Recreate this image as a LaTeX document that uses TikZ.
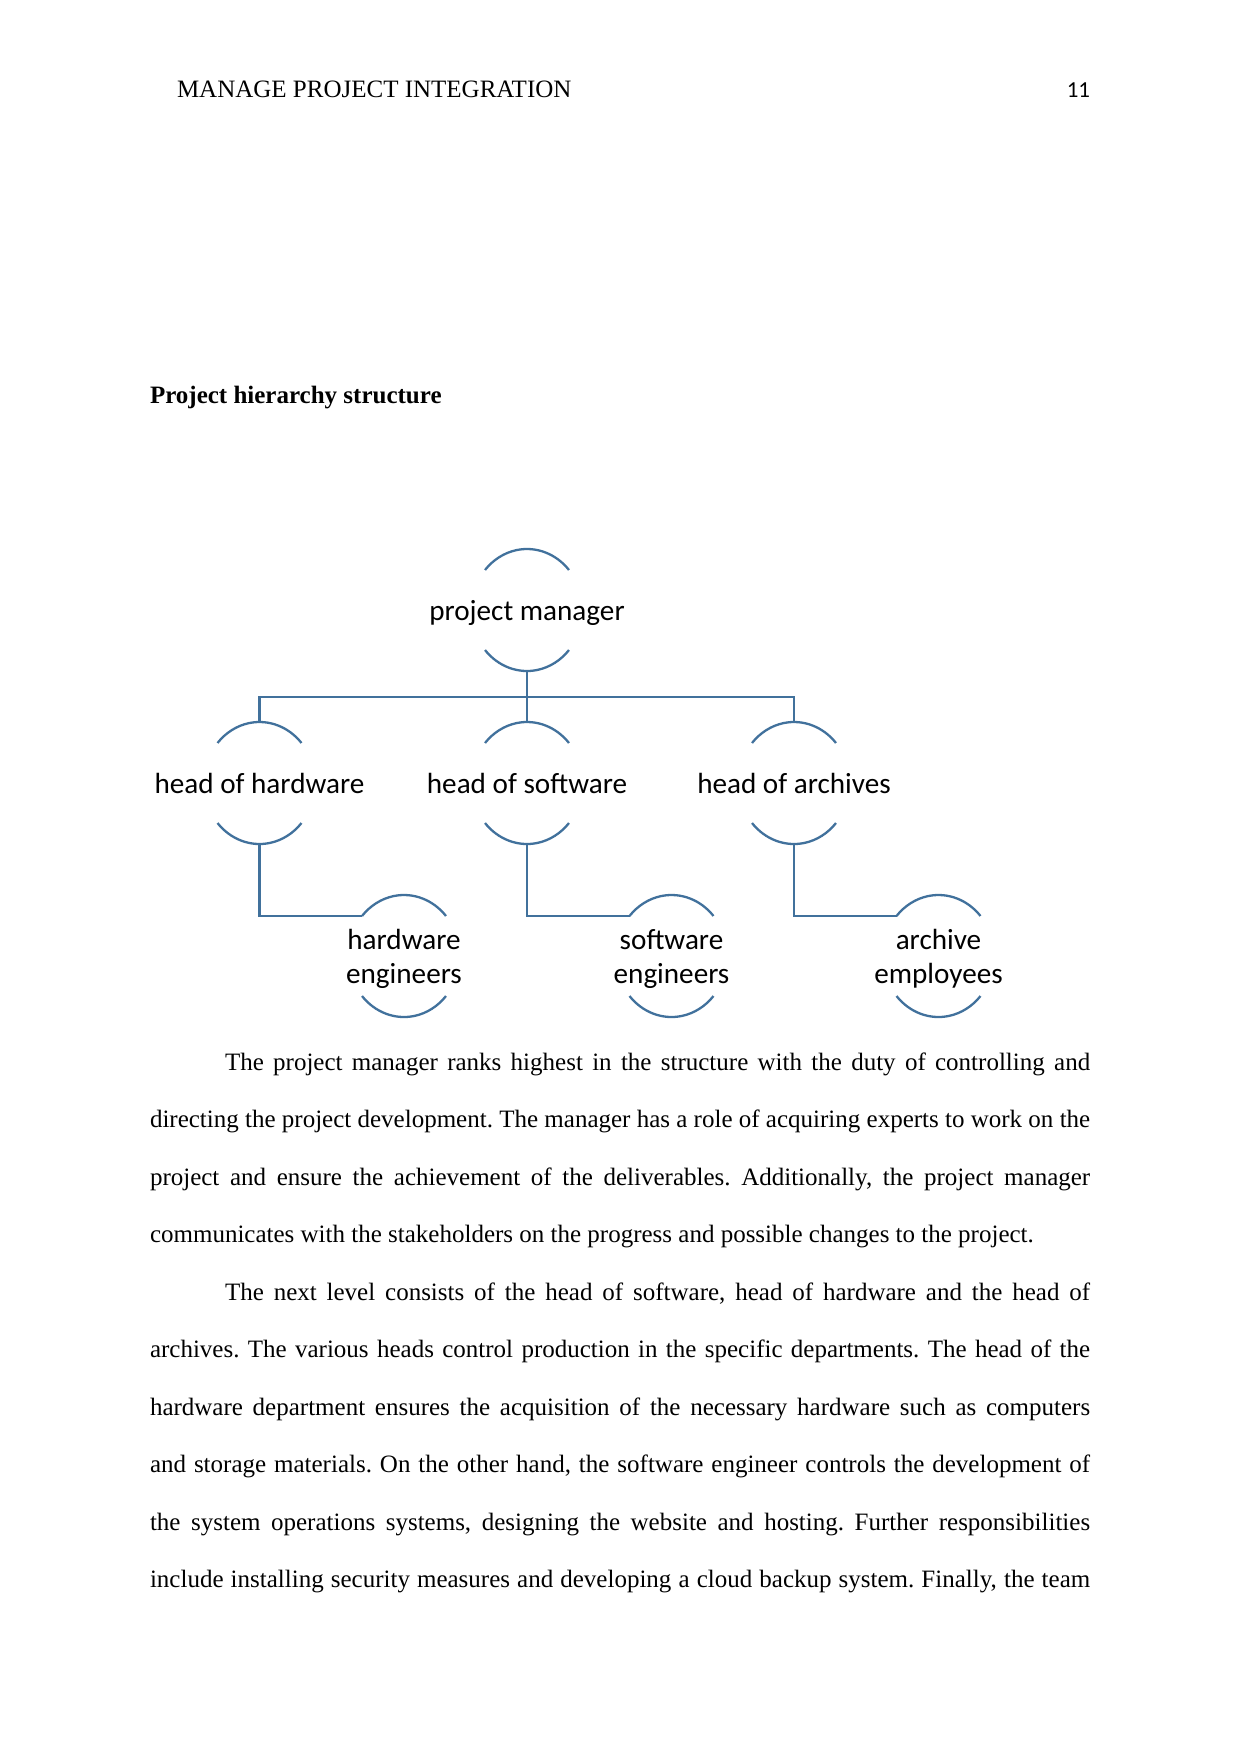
\documentclass[tikz,border=0pt]{standalone}
\usepackage{fontspec}
\setmainfont{Liberation Serif}
\newfontfamily\calibri{Carlito}
\usetikzlibrary{shapes.geometric, calc}
\definecolor{pmblue}{RGB}{65,113,156}
\frenchspacing
% justified body lines (full width / first line indented)
\newcommand{\jline}[1]{\makebox[451.28pt][s]{#1}}
\newcommand{\jindline}[1]{\makebox[415.28pt][s]{#1}}

\begin{document}
\begin{tikzpicture}[x=0.48pt, y=-0.48pt,
    every node/.style={inner sep=0pt, outer sep=0pt},
    role/.style={ellipse, minimum width=53.4pt, minimum height=58.56pt, align=center,
      font=\calibri\fontsize{14}{16.3}\selectfont},
    ring/.style={draw=pmblue, line width=1.1pt},
    link/.style={draw=pmblue, line width=1.1pt},
    bodyline/.style={anchor=base west, font=\fontsize{12}{13.8}\selectfont}]
  \path[use as bounding box, fill=white] (0,0) rectangle (1241,1754);

  % page header
  \node[anchor=base west, font=\fontsize{12}{13.8}\selectfont] (hdr) at (177,97) {MANAGE PROJECT INTEGRATION};
  \node[anchor=base east, font=\calibri\fontsize{11}{13}\selectfont] (pgno) at (1090,97) {11};
  \node[anchor=base west, font=\bfseries\fontsize{12}{13.8}\selectfont] (title) at (150,403) {Project hierarchy structure};

  % hierarchy
  \node[role, text depth=0pt] (pm) at (527,610) {\makebox[0pt]{project manager}};
  \node[role] (hh) at (259.5,783) {\makebox[0pt]{head of hardware}};
  \node[role] (hs) at (527,783) {\makebox[0pt]{head of software}};
  \node[role] (ha) at (794,783) {\makebox[0pt]{head of archives}};
  \node[role] (he) at (404,956) {\rule{0pt}{12.6pt}\makebox[0pt]{hardware}\\\makebox[0pt]{engineers}};
  \node[role] (se) at (671.5,956) {\rule{0pt}{12.6pt}\makebox[0pt]{software}\\\makebox[0pt]{engineers}};
  \node[role] (ae) at (938.5,956) {\rule{0pt}{12.6pt}\makebox[0pt]{archive}\\\makebox[0pt]{employees}};

  \foreach \n in {pm,hh,hs,ha,he,se,ae} {
    \draw[ring] ([shift={(41:26.7pt and 29.28pt)}]\n.center)
      arc[start angle=41, end angle=139, x radius=26.7pt, y radius=29.28pt];
    \draw[ring] ([shift={(221:26.7pt and 29.28pt)}]\n.center)
      arc[start angle=221, end angle=319, x radius=26.7pt, y radius=29.28pt];
  }

  \coordinate (bar) at (527,697);
  \draw[link] (hh.north) |- (bar) -| (ha.north);
  \draw[link] (pm.south) -- (hs.north);
  \draw[link] (hh.south) |- ([shift={(139:26.7pt and 29.28pt)}]he.center);
  \draw[link] (hs.south) |- ([shift={(139:26.7pt and 29.28pt)}]se.center);
  \draw[link] (ha.south) |- ([shift={(139:26.7pt and 29.28pt)}]ae.center);

  % body text
  \node[bodyline] (l1) at (225,1070) {\jindline{The project manager ranks highest in the structure with the duty of controlling and}};
  \node[bodyline] (l2) at (150,1127.5) {\jline{directing the project development. The manager has a role of acquiring experts to work on the}};
  \node[bodyline] (l3) at (150,1185) {\jline{project and ensure the achievement of the deliverables. Additionally, the project manager}};
  \node[bodyline] (l4) at (150,1242.5) {communicates with the stakeholders on the progress and possible changes to the project.};
  \node[bodyline] (l5) at (225,1300) {\jindline{The next level consists of the head of software, head of hardware and the head of}};
  \node[bodyline] (l6) at (150,1357.5) {\jline{archives. The various heads control production in the specific departments. The head of the}};
  \node[bodyline] (l7) at (150,1415) {\jline{hardware department ensures the acquisition of the necessary hardware such as computers}};
  \node[bodyline] (l8) at (150,1472.5) {\jline{and storage materials. On the other hand, the software engineer controls the development of}};
  \node[bodyline] (l9) at (150,1530) {\jline{the system operations systems, designing the website and hosting. Further responsibilities}};
  \node[bodyline] (l10) at (150,1587.5) {\jline{include installing security measures and developing a cloud backup system. Finally, the team}};
\end{tikzpicture}
\end{document}
